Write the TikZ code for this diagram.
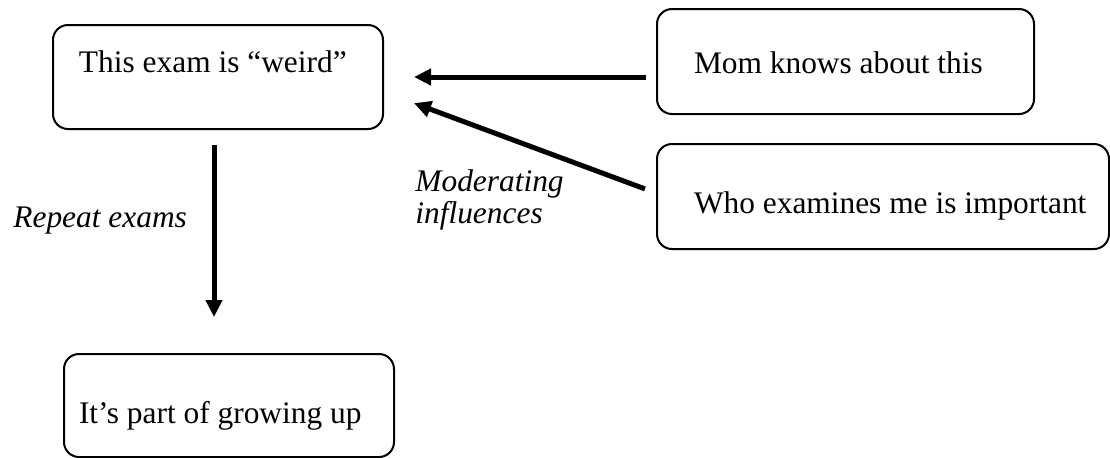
\documentclass[tikz,border=0pt]{standalone}
\usepackage{fontspec}
\setmainfont{Liberation Serif}
\usetikzlibrary{arrows.meta}

\begin{document}
\begin{tikzpicture}[
		x=0.5pt, y=-0.5pt,
		every node/.style={font=\fontsize{15.7}{16}\selectfont, inner sep=0pt},
		box/.style={draw, line width=1pt, rounded corners=7.5pt, align=flush left, anchor=north west},
		textindent/.style={execute at begin node={\hspace*{#1}}},
		arrow/.style={line width=2.5pt, -{Triangle[length=8.5pt, width=8pt]}}
	]
  \useasboundingbox (0, 0) rectangle (1110, 457);
  \node (weird) [box, textindent=13pt, text width=165pt, text height=23.5pt, text depth=28.5pt] at (52, 24) {This exam is “weird”};
  \node (mom) [box, textindent=18.5pt, text width=188.5pt, text height=32pt, text depth=20.5pt] at (656, 8) {Mom knows about this};
  \node (who) [box, textindent=18.5pt, text width=226pt, text height=34.5pt, text depth=18pt] at (656, 143) {Who examines me is important};
  \node (growing) [box, textindent=7.5pt, text width=165pt, text height=34.5pt, text depth=17pt] at (63, 353) {It’s part of growing up};
  \node (repeat) [anchor=base west, font=\fontsize{15.7}{16}\selectfont\itshape] at (13, 227) {Repeat exams};
  \node (moderating) [anchor=base west, align=left, font=\fontsize{15.7}{16}\selectfont\itshape] at (415, 223) {Moderating\\influences};
  \draw [arrow, shorten <=5pt, shorten >=15pt] (mom.west |- weird.east) -- (weird.east);
  \draw [arrow, shorten <=5.9pt, shorten >=16pt] ([yshift=1.75pt]who.west) -- ([yshift=-7.5pt]weird.east);
  \draw [arrow, shorten <=7.5pt, shorten >=18pt] ([xshift=-2pt]weird.south) -- ([xshift=-2pt]weird.south |- growing.north);
\end{tikzpicture}
\end{document}
